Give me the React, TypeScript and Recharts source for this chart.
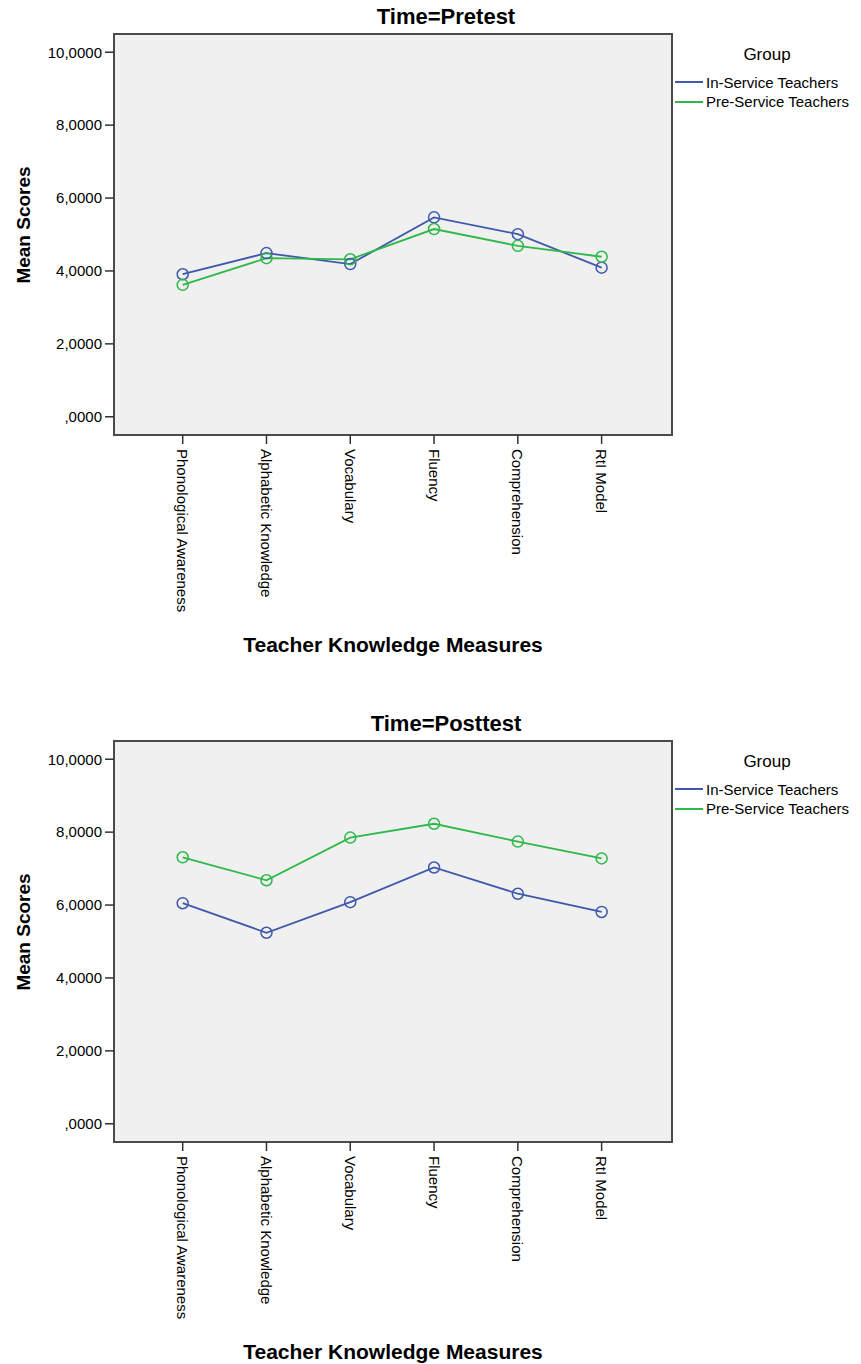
import React from 'react';
import { LineChart, Line, XAxis, YAxis, ReferenceArea, Label } from 'recharts';

const measures = [
  'Phonological Awareness',
  'Alphabetic Knowledge',
  'Vocabulary',
  'Fluency',
  'Comprehension',
  'RtI Model',
];

// mean scores per measure, pretest
const pretestInService = [3.91, 4.49, 4.19, 5.47, 5.01, 4.09];
const pretestPreService = [3.62, 4.35, 4.32, 5.15, 4.69, 4.39];

// mean scores per measure, posttest
const posttestInService = [6.05, 5.24, 6.08, 7.03, 6.31, 5.81];
const posttestPreService = [7.31, 6.68, 7.85, 8.23, 7.74, 7.28];

const yTicks = [0, 2, 4, 6, 8, 10];
const groups = ['In-Service Teachers', 'Pre-Service Teachers'];

// measures sit at 0..5 on a numeric x scale; the domain leaves room either side
const X_DOMAIN: [number, number] = [-0.82, 5.84];
const Y_DOMAIN: [number, number] = [-0.5, 10.5];

const BLUE = '#3e58ac';
const GREEN = '#2eb848';
const FONT = '"Liberation Sans", Arial, sans-serif';
const PANEL_H = 707;

const fmt = (v: number) => (v === 0 ? ',0000' : v.toFixed(4).replace('.', ','));

function MeasureTick({ x, y, payload }: any) {
  return (
    <text
      x={x}
      y={y}
      transform={`rotate(90, ${x}, ${y})`}
      textAnchor="start"
      dominantBaseline="central"
      fontSize={15}
      fontFamily={FONT}
      fill="#000"
    >
      {measures[payload.value]}
    </text>
  );
}

function Panel({ title, inService, preService, top }: {
  title: string;
  inService: number[];
  preService: number[];
  top: number;
}) {
  const rows = measures.map((m, i) => ({ idx: i, measure: m, inService: inService[i], preService: preService[i] }));
  const colors = [BLUE, GREEN];
  return (
    <div style={{ position: 'absolute', left: 0, top, width: 861, height: PANEL_H }}>
      <div
        style={{
          position: 'absolute', left: 346, width: 200, top: 4, textAlign: 'center',
          fontSize: 22, fontWeight: 'bold', fontFamily: FONT, color: '#000',
        }}
      >
        {title}
      </div>
      <LineChart width={861} height={PANEL_H} data={rows} margin={{ top: 34, right: 189, bottom: 0, left: 0 }}>
        <ReferenceArea
          x1={X_DOMAIN[0]}
          x2={X_DOMAIN[1]}
          y1={Y_DOMAIN[0]}
          y2={Y_DOMAIN[1]}
          fill="#f0f0f0"
          fillOpacity={1}
          stroke="#4a4a4a"
          strokeWidth={2}
        />
        <XAxis
          dataKey="idx"
          type="number"
          domain={X_DOMAIN}
          ticks={measures.map((_, i) => i)}
          height={272}
          axisLine={false}
          tickSize={9}
          tickLine={{ stroke: '#333', strokeWidth: 1.5 }}
          tickMargin={5}
          interval={0}
          tick={<MeasureTick />}
        >
          <Label
            content={({ viewBox }: any) => (
              <text
                x={viewBox.x + viewBox.width / 2}
                y={viewBox.y + 217}
                textAnchor="middle"
                fontSize={21}
                fontWeight="bold"
                fontFamily={FONT}
                fill="#000"
              >
                Teacher Knowledge Measures
              </text>
            )}
          />
        </XAxis>
        <YAxis
          width={114}
          domain={Y_DOMAIN}
          ticks={yTicks}
          tickFormatter={fmt}
          axisLine={false}
          tickSize={9}
          tickMargin={3}
          tickLine={{ stroke: '#333', strokeWidth: 1.5 }}
          tick={{ fontSize: 15, fontFamily: FONT, fill: '#000' }}
        >
          <Label
            content={({ viewBox }: any) => (
              <text
                x={23}
                y={viewBox.y + 191}
                transform={`rotate(-90, 23, ${viewBox.y + 191})`}
                textAnchor="middle"
                dominantBaseline="central"
                fontSize={19}
                fontWeight="bold"
                fontFamily={FONT}
                fill="#000"
              >
                Mean Scores
              </text>
            )}
          />
        </YAxis>
        <Line
          dataKey="inService"
          type="linear"
          stroke={BLUE}
          strokeWidth={1.8}
          dot={{ r: 5.5, fill: 'none', stroke: BLUE, strokeWidth: 1.5 }}
          isAnimationActive={false}
        />
        <Line
          dataKey="preService"
          type="linear"
          stroke={GREEN}
          strokeWidth={1.8}
          dot={{ r: 5.5, fill: 'none', stroke: GREEN, strokeWidth: 1.5 }}
          isAnimationActive={false}
        />
      </LineChart>
      <div
        style={{
          position: 'absolute', left: 717, width: 100, top: 45, textAlign: 'center',
          fontSize: 17, fontFamily: FONT, color: '#000',
        }}
      >
        Group
      </div>
      {groups.map((g, i) => (
        <div
          key={g}
          style={{
            position: 'absolute', left: 675, top: 73 + i * 19.5, height: 18,
            display: 'flex', alignItems: 'center', fontSize: 15, fontFamily: FONT, color: '#000',
            whiteSpace: 'nowrap',
          }}
        >
          <span style={{ display: 'inline-block', width: 28, height: 2, background: colors[i], marginRight: 3 }} />
          {g}
        </div>
      ))}
    </div>
  );
}

export default function App() {
  return (
    <div style={{ position: 'absolute', left: 0, top: 0, width: 861, height: 1364, background: '#fff' }}>
      <Panel title="Time=Pretest" inService={pretestInService} preService={pretestPreService} top={0} />
      <Panel title="Time=Posttest" inService={posttestInService} preService={posttestPreService} top={PANEL_H} />
    </div>
  );
}
